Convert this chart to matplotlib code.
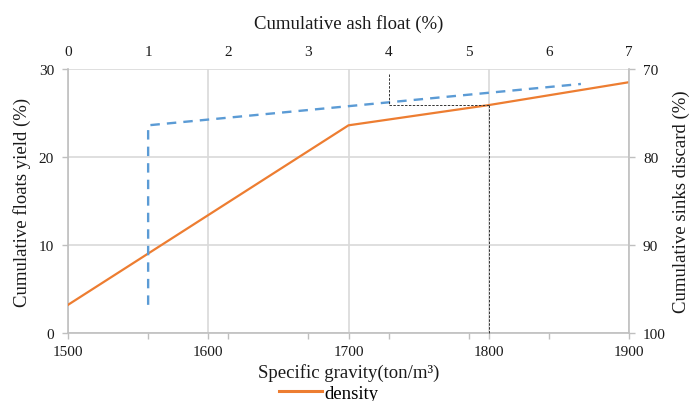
import matplotlib
matplotlib.use("Agg")
import matplotlib.pyplot as plt
from matplotlib.lines import Line2D

plt.rcParams['font.family'] = ['Liberation Serif', 'DejaVu Serif']

# Data
density = [1500, 1700, 1800, 1900]
floats_yield = [3.2, 23.6, 25.9, 28.5]

ash_float = [1.0, 1.0, 6.4]
ash_yield = [3.2, 23.6, 28.3]

guide_ash = 4.0
guide_density = 1800
guide_yield = 25.9
guide_top_yield = 29.4

x_ticks = [1500, 1600, 1700, 1800, 1900]
y_ticks = [0, 10, 20, 30]
ash_ticks = [0, 1, 2, 3, 4, 5, 6, 7]
sink_ticks = [70, 80, 90, 100]

orange = '#ED7D31'
blue = '#5B9BD5'
grid_c = '#D9D9D9'
spine_c = '#BFBFBF'
text_c = '#1a1a1a'

TICK = 11
TITLE = 13.5

fig = plt.figure(figsize=(6.94, 4.02), dpi=100)
ax = fig.add_axes([68/694, 1-334/402, (629-68)/694, (334-70)/402])
ax.set_xlim(1500, 1900)
ax.set_ylim(0, 30)
ax.set_xticks(x_ticks)
ax.set_yticks(y_ticks)
ax.grid(True, color=grid_c, linewidth=1.2)
ax.set_axisbelow(True)
for s in ['top', 'right']:
    ax.spines[s].set_visible(False)
for s in ['left', 'bottom']:
    ax.spines[s].set_color(spine_c)
    ax.spines[s].set_linewidth(1.2)
ax.tick_params(axis='both', colors=spine_c, labelcolor=text_c, labelsize=TICK, length=4, width=1)
ax.tick_params(axis='y', pad=6)
ax.tick_params(axis='x', pad=5)
# minor ticks at secondary-axis positions on bottom
minor = [1500 + a / 7 * 400 for a in ash_ticks[1:-1]]
ax.set_xticks(minor, minor=True)
ax.tick_params(axis='x', which='minor', colors=spine_c, length=4, width=1)
ax.set_xlabel('Specific gravity(ton/m³)', fontsize=TITLE, labelpad=3, color=text_c)
ax.set_ylabel('Cumulative floats yield (%)', fontsize=TITLE, labelpad=6, color=text_c)

ln, = ax.plot(density, floats_yield, color=orange, linewidth=1.6, zorder=3, label='density')

ax_top = ax.twiny()
ax_top.set_xlim(0, 7)
ax_top.set_xticks(ash_ticks)
ax_top.tick_params(axis='x', length=0, labelsize=TICK, labelcolor=text_c, pad=8)
for s in ax_top.spines.values():
    s.set_visible(False)
ax_top.set_xlabel('Cumulative ash float (%)', fontsize=TITLE, labelpad=12, color=text_c)
ax_top.plot(ash_float, ash_yield, color=blue, linewidth=1.7, dashes=(4, 3), zorder=4)

# guide lines
ax_top.plot([guide_ash, guide_ash], [guide_top_yield, guide_yield], color='#333333',
            linewidth=0.7, linestyle=(0, (2.5, 1.5)), zorder=5)
gx = ax.transData.inverted().transform(ax_top.transData.transform((guide_ash, guide_yield)))[0]
ax.plot([gx, guide_density], [guide_yield, guide_yield], color='#333333',
        linewidth=0.7, linestyle=(0, (2.5, 1.5)), zorder=5)
ax.plot([guide_density, guide_density], [guide_yield, 0], color='#333333',
        linewidth=0.7, linestyle=(0, (2.5, 1.5)), zorder=5, clip_on=False)

ax_r = ax.twinx()
ax_r.set_ylim(100, 70)
ax_r.set_yticks(sink_ticks)
for s in ['top', 'left', 'bottom']:
    ax_r.spines[s].set_visible(False)
ax_r.spines['right'].set_color(spine_c)
ax_r.spines['right'].set_linewidth(1.2)
ax_r.tick_params(axis='y', colors=spine_c, labelcolor=text_c, labelsize=TICK, length=4, width=1, pad=6)
ax_r.set_ylabel('Cumulative sinks discard (%)', fontsize=TITLE, labelpad=5, color=text_c)

fig.legend(handles=[Line2D([0], [0], color=orange, linewidth=2.2)], labels=['density'],
           loc='center', bbox_to_anchor=(0.474, 0.02), frameon=False, fontsize=TITLE,
           handlelength=2.3, handletextpad=0.15, borderpad=0)

fig.savefig('out.png', dpi=100)
